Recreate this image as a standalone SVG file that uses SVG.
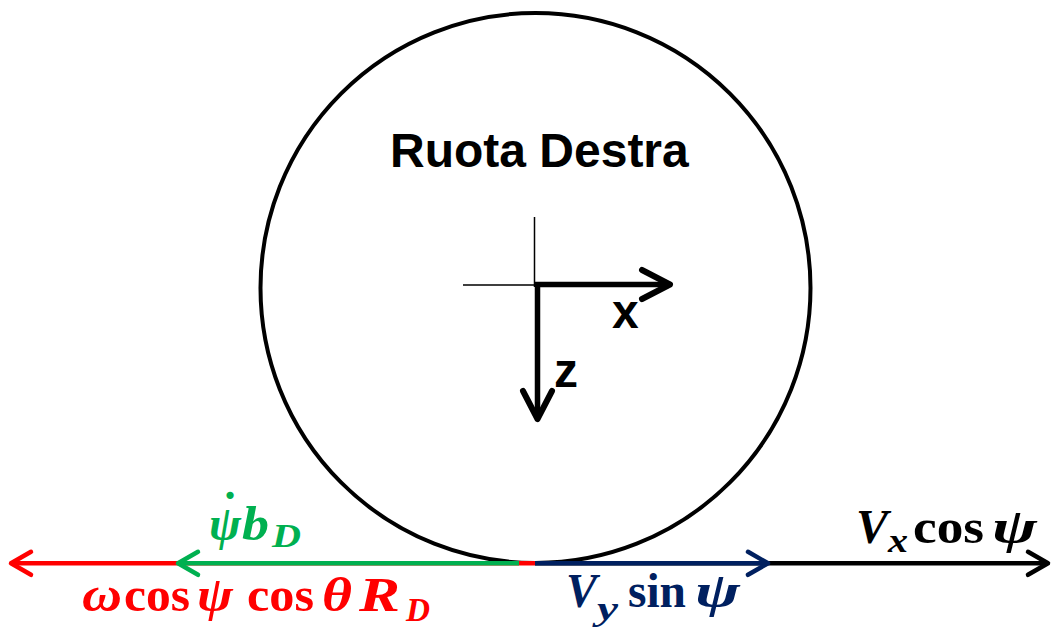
<svg xmlns="http://www.w3.org/2000/svg" width="1052" height="634" viewBox="0 0 1052 634">
<style>
.sans{font-family:"Liberation Sans",Arial,sans-serif;font-weight:bold;fill:#000}
.m{font-family:"Liberation Serif","DejaVu Serif",serif;font-weight:bold;font-size:48px}
.it{font-style:italic}
.up{font-style:normal}
.sub{font-size:33px}
.red{fill:#FF0000}.grn{fill:#00B050}.blu{fill:#002060}.blk{fill:#000}
.vec{fill:none;stroke-width:4.5}
.ax{fill:none;stroke:#000;stroke-width:5.5}
</style>
<defs>
<marker id="hRed" markerUnits="userSpaceOnUse" viewBox="-24 -14 28 28" markerWidth="28" markerHeight="28" refX="0" refY="0" orient="auto" overflow="visible"><path d="M-20 -11.5 L0 0 L-20 11.5" fill="none" stroke="#FF0000" stroke-width="4.5" stroke-linejoin="round" stroke-linecap="round"/></marker>
<marker id="hGrn" markerUnits="userSpaceOnUse" viewBox="-24 -14 28 28" markerWidth="28" markerHeight="28" refX="0" refY="0" orient="auto" overflow="visible"><path d="M-20 -11.5 L0 0 L-20 11.5" fill="none" stroke="#00B050" stroke-width="4.5" stroke-linejoin="round" stroke-linecap="round"/></marker>
<marker id="hBlu" markerUnits="userSpaceOnUse" viewBox="-24 -14 28 28" markerWidth="28" markerHeight="28" refX="0" refY="0" orient="auto" overflow="visible"><path d="M-20 -11.5 L0 0 L-20 11.5" fill="none" stroke="#002060" stroke-width="4.5" stroke-linejoin="round" stroke-linecap="round"/></marker>
<marker id="hBlk" markerUnits="userSpaceOnUse" viewBox="-24 -14 28 28" markerWidth="28" markerHeight="28" refX="0" refY="0" orient="auto" overflow="visible"><path d="M-20 -11.5 L0 0 L-20 11.5" fill="none" stroke="#000" stroke-width="4.5" stroke-linejoin="round" stroke-linecap="round"/></marker>
<marker id="hAx" markerUnits="userSpaceOnUse" viewBox="-32 -18 36 36" markerWidth="36" markerHeight="36" refX="0" refY="0" orient="auto" overflow="visible"><path d="M-28 -14.5 L0 0 L-28 14.5" fill="none" stroke="#000" stroke-width="6" stroke-linejoin="round" stroke-linecap="round"/></marker>
</defs>
<rect width="1052" height="634" fill="#fff"/>
<g id="wheel">
<circle cx="535.5" cy="288" r="275" fill="none" stroke="#000" stroke-width="4"/>
<text class="sans" x="390" y="167" font-size="48">Ruota Destra</text>
</g>
<g id="axes">
<path d="M534.5 217 V287 M463 285 H537" fill="none" stroke="#000" stroke-width="1.5"/>
<path class="ax" d="M535 284.5 H670" marker-end="url(#hAx)"/>
<path class="ax" d="M537.5 282 V419" marker-end="url(#hAx)"/>
<text class="sans" x="612" y="328" font-size="48">x</text>
<text class="sans" x="554" y="387" font-size="48">z</text>
</g>
<g id="connectors">
<path class="vec" stroke="#000" d="M535 563.3 H1048" marker-end="url(#hBlk)"/>
<path class="vec" stroke="#FF0000" d="M535 563.3 H11" marker-end="url(#hRed)"/>
<path class="vec" stroke="#00B050" d="M519 563.3 H178" marker-end="url(#hGrn)"/>
<path class="vec" stroke="#002060" d="M535 563.3 H768" marker-end="url(#hBlu)"/>
</g>
<g id="label-green" class="m grn">
<text class="it"><tspan x="209" y="540">ψ</tspan><tspan class="up" x="222" y="526">˙</tspan></text>
<text class="it" x="242" y="540" textLength="27" lengthAdjust="spacingAndGlyphs">b</text>
<text class="it sub" x="272" y="547" textLength="29" lengthAdjust="spacingAndGlyphs">D</text>
</g>
<g id="label-red" class="m red">
<text class="it" x="82" y="611" textLength="40" lengthAdjust="spacingAndGlyphs">ω</text>
<text x="124" y="611" textLength="66" lengthAdjust="spacingAndGlyphs">cos</text>
<text class="it" x="197" y="611" textLength="36" lengthAdjust="spacingAndGlyphs">ψ</text>
<text x="247" y="611" textLength="67" lengthAdjust="spacingAndGlyphs">cos</text>
<text class="it" x="322" y="611" textLength="30" lengthAdjust="spacingAndGlyphs">θ</text>
<text class="it" x="359" y="611" textLength="41" lengthAdjust="spacingAndGlyphs">R</text>
<text class="it sub" x="406" y="621" textLength="24" lengthAdjust="spacingAndGlyphs">D</text>
</g>
<g id="label-blue" class="m blu">
<text class="it" x="566" y="607" textLength="31" lengthAdjust="spacingAndGlyphs">V</text>
<text class="it sub" x="597" y="620" textLength="21" lengthAdjust="spacingAndGlyphs">y</text>
<text x="628" y="607" textLength="58" lengthAdjust="spacingAndGlyphs">sin</text>
<text class="it" x="695" y="607" textLength="45" lengthAdjust="spacingAndGlyphs">ψ</text>
</g>
<g id="label-black" class="m blk">
<text class="it" x="856" y="543" textLength="32" lengthAdjust="spacingAndGlyphs">V</text>
<text class="it sub" x="888" y="552" textLength="20" lengthAdjust="spacingAndGlyphs">x</text>
<text x="913" y="543" textLength="71" lengthAdjust="spacingAndGlyphs">cos</text>
<text class="it" x="992" y="543" textLength="45" lengthAdjust="spacingAndGlyphs">ψ</text>
</g>
</svg>
